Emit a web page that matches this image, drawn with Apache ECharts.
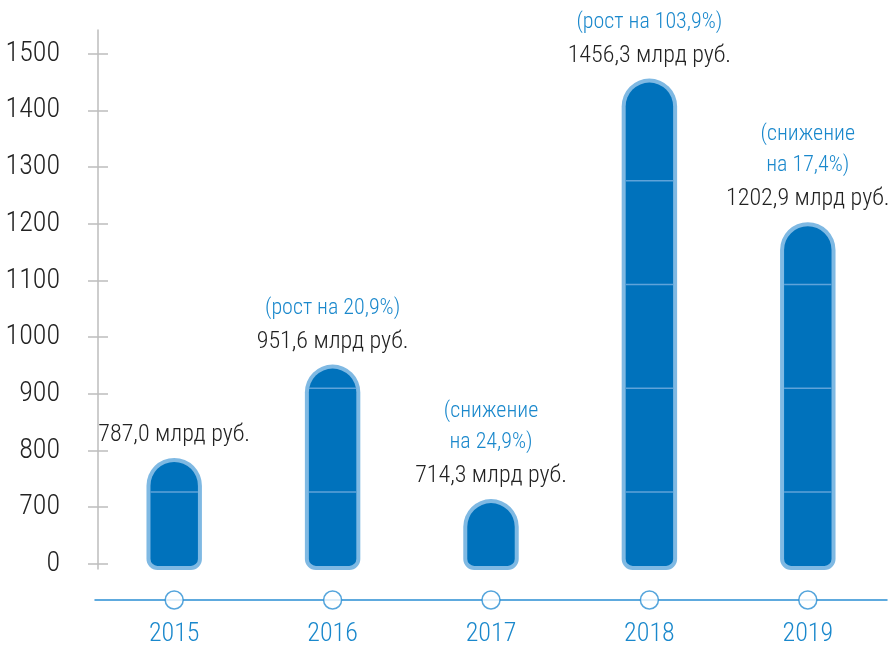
<!DOCTYPE html>
<html lang="ru">
<head>
    <meta charset="UTF-8">
    <title>chart</title>
    <script src="https://cdn.jsdelivr.net/npm/echarts@6/dist/echarts.min.js"></script>
    <style>
        html, body { margin: 0; padding: 0; background: #fff; }
        #main { width: 896px; height: 651px; }
    </style>
</head>
<body>
<div id="main"></div>
<script type="text/javascript">
    // данные
    var years = ['2015', '2016', '2017', '2018', '2019'];
    var values = [787.0, 951.6, 714.3, 1456.3, 1202.9];
    var valueLabels = ['787,0 млрд руб.', '951,6 млрд руб.', '714,3 млрд руб.', '1456,3 млрд руб.', '1202,9 млрд руб.'];
    var changes = [[], ['(рост на 20,9%)'], ['(снижение', 'на 24,9%)'], ['(рост на 103,9%)'], ['(снижение', 'на 17,4%)']];
    var tickValues = [0, 700, 800, 900, 1000, 1100, 1200, 1300, 1400, 1500];

    var FONT = "'Roboto Condensed', 'Liberation Sans Narrow', 'DejaVu Sans Condensed', sans-serif";

    // ось с разрывом: 0 -> 0, 700 -> 1, 800 -> 2 ...
    function toAxis(v) {
        return v <= 700 ? v / 700 : (v - 600) / 100;
    }
    var axisTicks = tickValues.map(toAxis);

    var barData = values.map(function (v, i) { return [i, toAxis(v)]; });

    function renderBar(params, api) {
        var i = api.value(0);
        var top = api.coord([i, api.value(1)]);
        var base = api.coord([i, 0]);
        var w = api.size([1, 0])[0] * 0.35;
        var x = top[0] - w / 2;
        var bottom = base[1] + 6;
        var h = bottom - top[1];
        var children = [
            {type: 'rect', shape: {x: x, y: top[1], width: w, height: h, r: [w / 2, w / 2, 11, 11]},
                style: {fill: '#7fb9e3'}},
            {type: 'rect', shape: {x: x + 4, y: top[1] + 4, width: w - 8, height: h - 8, r: [w / 2 - 4, w / 2 - 4, 7, 7]},
                style: {fill: '#0072bc'}}
        ];
        // декоративные полосы внутри столбика
        for (var y = bottom - 78; y > top[1] + 20; y -= 103.7) {
            children.push({type: 'line', shape: {x1: x + 4, y1: y, x2: x + w - 4, y2: y},
                style: {stroke: '#5fa3d9', lineWidth: 1.5}});
        }
        var lines = changes[i].map(function (s) { return '{c|' + s + '}'; });
        lines.push('{v|' + valueLabels[i] + '}');
        children.push({
            type: 'text',
            style: {
                text: lines.join('\n'),
                x: top[0], y: top[1] - 5,
                align: 'center', verticalAlign: 'bottom',
                rich: {
                    c: {font: '300 22px ' + FONT, fill: '#1a88cc', lineHeight: 31, align: 'center'},
                    v: {font: '300 24px ' + FONT, fill: '#222222', lineHeight: 36, align: 'center'}
                }
            }
        });
        return {type: 'group', children: children};
    }

    var myChart = echarts.init(document.getElementById('main'));

    var option = {
        animation: false,
        grid: [
            {left: 95, right: 9, top: 30, bottom: 82, outerBoundsMode: 'none', containLabel: false},
            {left: 95, right: 9, top: 590, height: 10, outerBoundsMode: 'none', containLabel: false}
        ],
        xAxis: [
            {type: 'category', gridIndex: 0, data: years, show: false},
            {type: 'category', gridIndex: 1, data: years,
                axisLine: {lineStyle: {color: '#2a8fd3', width: 1.5}},
                axisTick: {show: false},
                axisLabel: {color: '#1a88cc', fontSize: 26, fontWeight: 300, fontFamily: FONT, margin: 21}}
        ],
        yAxis: [
            {type: 'value', gridIndex: 0, min: -0.09, max: 9.42, offset: -3,
                splitLine: {show: false},
                axisLine: {show: true, lineStyle: {color: '#bdbdbd', width: 1.5}},
                axisTick: {show: true, length: 10, customValues: axisTicks, lineStyle: {color: '#bdbdbd', width: 1.5}},
                axisLabel: {customValues: axisTicks, margin: 38, color: '#222222', fontSize: 28, fontWeight: 300, fontFamily: FONT,
                    formatter: function (v) {
                        var k = Math.round(v);
                        return k === 0 ? '0' : String(600 + 100 * k);
                    }}},
            {type: 'value', gridIndex: 0, min: -0.09, max: 9.42, offset: -3, position: 'left',
                splitLine: {show: false}, axisLine: {show: false}, axisLabel: {show: false},
                axisTick: {show: true, inside: true, length: 10, customValues: axisTicks, lineStyle: {color: '#bdbdbd', width: 1.5}}},
            {type: 'value', gridIndex: 1, min: 0, max: 1, show: false}
        ],
        series: [
            {type: 'custom', xAxisIndex: 0, yAxisIndex: 0, data: barData, renderItem: renderBar, clip: false, z: 3},
            {type: 'scatter', xAxisIndex: 1, yAxisIndex: 2, clip: false, z: 5,
                data: years.map(function (y, i) { return [i, 0]; }),
                symbol: 'circle', symbolSize: 18,
                itemStyle: {color: '#ffffff', borderColor: '#2a8fd3', borderWidth: 1.5}}
        ]
    };
    myChart.setOption(option);
</script>
</body>
</html>
